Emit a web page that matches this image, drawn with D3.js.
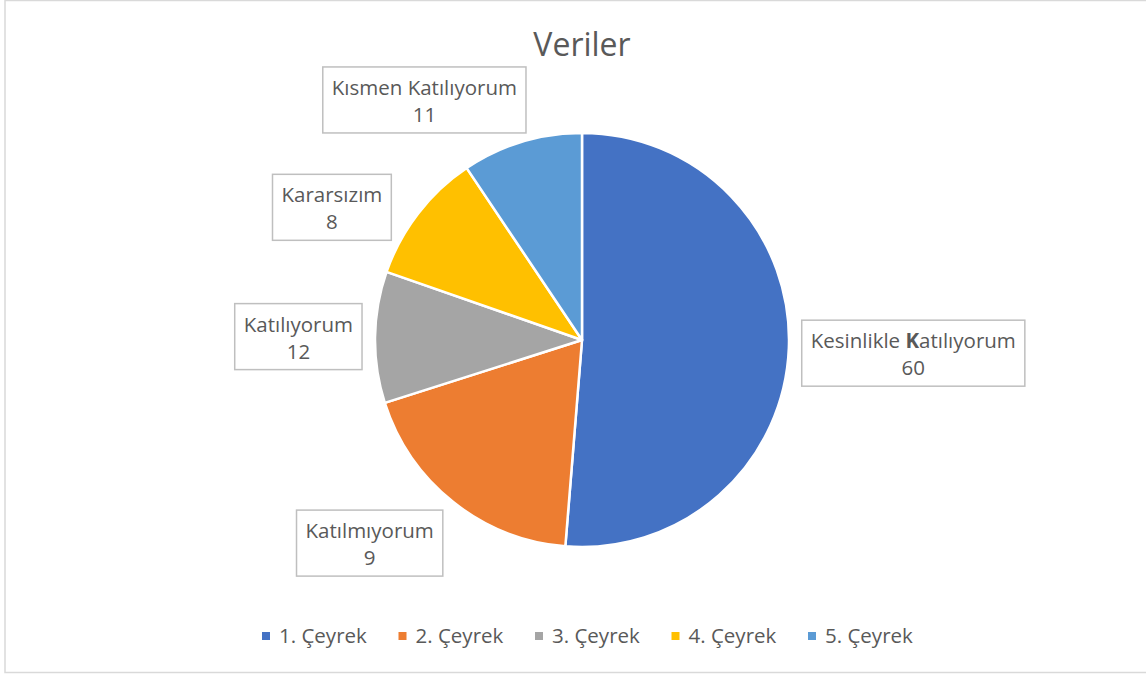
<!DOCTYPE html>
<html>
<head>
<meta charset="utf-8">
<script src="https://cdn.jsdelivr.net/npm/d3@7"></script>
<style>
  html, body { margin: 0; padding: 0; background: #fff; }
  svg text { font-family: "Open Sans", Lato, sans-serif; fill: #595959; }
</style>
</head>
<body>
<div id="vis"></div>
<script>
(function() {
    var width = 1146,
        height = 676;

    // chart data
    var categories = ["1. Çeyrek", "2. Çeyrek", "3. Çeyrek", "4. Çeyrek", "5. Çeyrek"];
    var sliceValues = [60, 22, 12, 12, 11];
    var labelNames = ["Kesinlikle Katılıyorum", "Katılmıyorum", "Katılıyorum", "Kararsızım", "Kısmen Katılıyorum"];
    var labelNumbers = [60, 9, 12, 8, 11];

    var colors = ["#4472C4", "#ED7D31", "#A5A5A5", "#FFC000", "#5B9BD5"];

    // label box nudges (layout only, Excel moved them to avoid overlap)
    var nudges = [[0, 3], [-30, 5], [0, 0], [-29, 22], [-64, 2]];

    var svg = d3.select("#vis")
        .append("svg")
        .attr("width", width)
        .attr("height", height);

    // chart area border
    svg.append("rect")
        .attr("x", 5)
        .attr("y", 0.5)
        .attr("width", 1160)
        .attr("height", 672)
        .attr("fill", "#fff")
        .attr("stroke", "#d9d9d9")
        .attr("stroke-width", 1.5);

    svg.append("text")
        .attr("x", 582)
        .attr("y", 56)
        .attr("text-anchor", "middle")
        .style("font-size", "32px")
        .text("Veriler");

    var cx = 582, cy = 340, radius = 207;

    var pie = d3.pie().sort(null).value(function(d) { return d; });
    var arcs = pie(sliceValues);
    var arc = d3.arc().innerRadius(0).outerRadius(radius);

    var g = svg.append("g")
        .attr("transform", "translate(" + cx + "," + cy + ")");

    g.selectAll(".slice")
        .data(arcs)
        .enter().append("path")
        .attr("class", "slice")
        .attr("d", arc)
        .attr("fill", function(d, i) { return colors[i]; })
        .attr("stroke", "#fff")
        .attr("stroke-width", 2.5)
        .attr("stroke-linejoin", "round");

    // data labels
    var labels = g.selectAll(".lbl")
        .data(arcs)
        .enter().append("g")
        .attr("class", "lbl");

    labels.each(function(d, i) {
        var sel = d3.select(this);
        var t1 = sel.append("text")
            .attr("text-anchor", "middle")
            .style("font-size", "20.5px");
        if (i === 0) {
            t1.append("tspan").text("Kesinlikle ");
            t1.append("tspan").style("font-weight", "bold").text("K");
            t1.append("tspan").text("atılıyorum");
        } else {
            t1.text(labelNames[i]);
        }
        var t2 = sel.append("text")
            .attr("text-anchor", "middle")
            .style("font-size", "20.5px")
            .text(labelNumbers[i]);

        var w = t1.node().getComputedTextLength() + 18;
        var h = 66;
        var mid = (d.startAngle + d.endAngle) / 2;
        var px = Math.sin(mid) * (radius + 13);
        var py = -Math.cos(mid) * (radius + 13);
        var bx = px + Math.sin(mid) * w / 2 + nudges[i][0];
        var by = py - Math.cos(mid) * h / 2 + nudges[i][1];

        sel.insert("rect", "text")
            .attr("x", bx - w / 2)
            .attr("y", by - h / 2)
            .attr("width", w)
            .attr("height", h)
            .attr("fill", "#fff")
            .attr("stroke", "#bfbfbf")
            .attr("stroke-width", 1.5);
        t1.attr("x", bx).attr("y", by - 5);
        t2.attr("x", bx).attr("y", by + 22);
    });

    // legend
    var legend = svg.append("g")
        .attr("transform", "translate(262,632)");

    var items = legend.selectAll(".leg")
        .data(categories)
        .enter().append("g")
        .attr("class", "leg")
        .attr("transform", function(d, i) { return "translate(" + (i * 136.5) + ",0)"; });

    items.append("rect")
        .attr("width", 8)
        .attr("height", 8)
        .attr("fill", function(d, i) { return colors[i]; });

    items.append("text")
        .attr("x", 17)
        .attr("y", 11)
        .style("font-size", "20.5px")
        .text(function(d) { return d; });
})();
</script>
</body>
</html>
